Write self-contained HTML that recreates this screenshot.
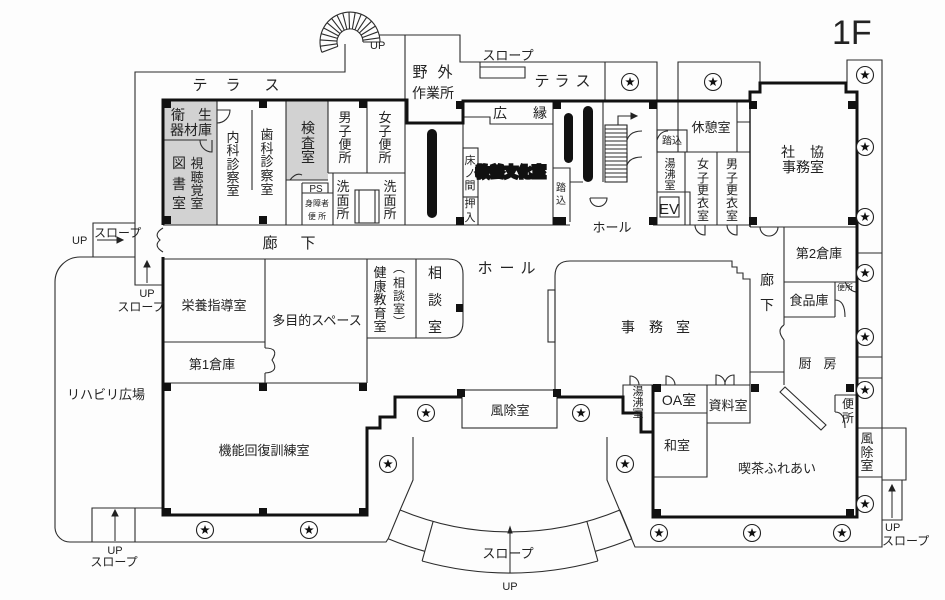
<!DOCTYPE html>
<html><head><meta charset="utf-8"><style>
html,body{margin:0;padding:0;background:#fff;}
svg{display:block;}
text{font-family:"Liberation Sans","Noto Sans CJK JP",sans-serif;fill:#222;}
</style></head><body>
<svg width="945" height="600" viewBox="0 0 945 600" xmlns="http://www.w3.org/2000/svg">
<rect width="945" height="600" fill="#fdfdfd"/>
<!-- gray rooms -->
<rect x="163" y="100" width="54" height="125" fill="#d2d2d2"/>
<rect x="286" y="100" width="42" height="80" fill="#d2d2d2"/>

<g fill="none" stroke="#2c2c2c" stroke-width="1.1">
<!-- spiral stair -->
<path d="M321.8,52.3 A30,30 0 1,1 380,42"/>
<path d="M337.8,46.4 A13,13 0 1,1 363,42"/>
<path d="M337.8,46.4L321.8,52.3M337.1,43.8L320.3,46.2M337,41.1L320.1,39.9M337.5,38.4L321.2,33.7M338.5,35.9L323.5,27.9M340,33.6L327,22.7M342,31.8L331.5,18.4M344.3,30.3L336.9,15M346.9,29.4L342.7,12.9M349.5,29L349,12M352.3,29.2L355.2,12.5M354.9,29.9L361.2,14.2M357.3,31.2L366.8,17.1M359.3,33L371.6,21.2M361,35.1L375.4,26.1M362.2,37.6L378.2,31.7M362.9,40.2L379.7,37.8M363,42H380"/>
<!-- left terrace -->
<path d="M345,44 V72 H135 V285 H163"/>
<path d="M135,223 H93 V257 H135"/>
<path d="M135,257 H80 A25,25 0 0,0 55,282 V528 A15,15 0 0,0 70,542 H386 L388.2,538.7"/>
<path d="M92,542 V508 H163 M135,508 V542"/>
<!-- top terraces -->
<path d="M379,35 H405 V225"/>
<path d="M405,35 H460 V62 H657 V100 M605,62 V100"/>
<path d="M678,100 V62 H760 V82"/>
<path d="M480,62 V78 H525 V67 H480"/>
<!-- right column -->
<path d="M847,83 V60 H882 V547 H635 L607,480 V437"/>
<path d="M857,253 H882 M857,357 H882 M857,378 H882 M857,428 H882 M857,477 H882"/>
<path d="M882,428 H906 V480 H882 M882,480 H902 V520 H882"/>
<!-- curved slope -->
<path d="M400.1,510 A286,286 0 0,0 619.9,510"/>
<path d="M388.2,538.7 A317,317 0 0,0 424.8,551.3"/>
<path d="M595.2,551.3 A317,317 0 0,0 631.8,538.7"/>
<path d="M422.1,561 A327,327 0 0,0 597.9,561"/>
<path d="M400.1,510 L388.2,538.7 M433.1,521.5 L422.1,561 M586.9,521.5 L597.9,561 M619.9,510 L631.8,538.7"/>
<path d="M413,437 V480 L400.1,510"/>

<!-- top room lines -->
<path d="M163,225 H570 M653,225 H750 M750,227 H857"/>
<path d="M217,100 V225 M252,110 V190 M286,100 V225 M163,140 H207"/>
<path d="M217,110 H230 A13,13 0 0,1 217,123"/>
<path d="M200,140 A12,12 0 0,0 212,152 V140"/>
<path d="M286,180 H328 M328,100 V173 M367,100 V173 M328,173 H405"/>
<path d="M290,180 Q296,172 302,175"/>
<path d="M302,183 V225 M302,183 H328 V193 M302,193 H333 M333,173 V225"/>
<rect x="355" y="190" width="24" height="33"/>
<path d="M359,190 V223 M375,190 V223"/>
<path d="M463,101 V225 M463,117 H490 V124 H553 M553,101 V225"/>
<rect x="463" y="148" width="15" height="49"/>
<path d="M463,197 H478 V225"/>
<path d="M553,168 H570 V222 M570,182 H583"/>
<path d="M603,101 V182"/>
<rect x="605" y="125" width="22" height="57"/>
<path d="M605,129H627M605,133H627M605,137H627M605,141H627M605,145H627M605,149H627M605,153H627M605,157H627M605,161H627M605,165H627M605,169H627M605,173H627M605,177H627"/>
<path d="M618,125 V116 H632"/>
<path d="M627,125 V140 M627,153 V182"/>
<path d="M627,140 Q630,131 642,131 M627,165 Q630,157 642,157"/>
<path d="M590,198 H607 A8.5,8.5 0 0,1 590,198"/>
<path d="M657,101 V225"/>
<rect x="657" y="130" width="30" height="22"/>
<path d="M657,140 Q660,131 668,131"/>
<path d="M678,101 V152 H750 M737,101 V152 M737,122 H750"/>
<path d="M685,152 V225 M657,192 H690 V225 M717,152 V225"/>
<rect x="660" y="197" width="19" height="20"/>
<path d="M695,225 A10,10 0 0,0 705,235 V225 M727,225 A10,10 0 0,0 737,235 V225"/>
<path d="M760,227 A9,9 0 0,0 769,236 A9,9 0 0,0 778,227"/>
<!-- left door -->
<path d="M163,228 Q153,234 160,240 Q153,246 163,252"/>

<!-- middle -->
<path d="M163,259 H448 Q463,259 463,274 V322 Q463,338 447,338 H367 M416,259 V338 M367,259 V383"/>
<path d="M265,259 V348 M265,373 V383 M163,342 H265 M163,383 H367"/>
<path d="M265,348 Q280,348 272,360 Q280,372 265,373"/>
<path d="M555,392 V276 Q555,261 570,261 H732 V267 H737 V273 H743 V279 H750 V372 H784"/>
<rect x="548" y="290" width="7" height="52"/>
<path d="M784,227 V325 M784,340 V385 M784,282 H857 M784,317 H835 M835,282 V317"/>
<path d="M784,325 Q776,330 784,340"/>
<path d="M835,300 Q845,300 845,317 M845,282 Q850,292 857,292"/>
<polygon points="780,392 785,387 826,425 821,430"/>
<path d="M835,395 H857 M835,395 V412 M835,412 Q845,412 845,428"/>
<rect x="462" y="390" width="95" height="38"/>
<path d="M623,397 V385 H750 M750,372 V423 H707 V385 M653,413 H707 M707,413 V477 H653"/>
<path d="M630,385 V376 A9,9 0 0,1 639,385 M666,385 V376 A9,9 0 0,1 675,385"/>
<path d="M716,385 V375 A9,9 0 0,1 725,385 A9,9 0 0,1 734,375 V385"/>
</g>

<!-- thick walls -->
<g fill="none" stroke="#111" stroke-width="3" stroke-linejoin="miter">
<path d="M163,225 V100 H407 V123 H463 V101 H750 V92 H760 V83 H846 V92 H857 V517 H653 V385"/>
<path d="M653,432 H641 V413 H623 V397 H557"/>
<path d="M462,397 H395 V417 H380 V428 H367 V515 H163 V257"/>
<path d="M750,101 V227" stroke-width="1.4"/>
</g>

<!-- arrowheads -->
<g fill="#222" stroke="#222" stroke-width="1">
<path d="M97,240 H118 M147,283 V266 M115,541 V515 M892,518 V490 M510,573 V532" fill="none"/>
<polygon points="123,240 117,237 117,243"/>
<polygon points="147,261 144,267 150,267"/>
<polygon points="115,510 112,516 118,516"/>
<polygon points="892,485 889,491 895,491"/>
<polygon points="510,527 508,533 512,533"/>
<polygon points="637,116 631,113 631,119"/>
</g>

<!-- black bars -->
<g fill="#111">
<rect x="427" y="129" width="10" height="89" rx="5"/>
<rect x="564" y="113" width="9" height="50" rx="4.5"/>
<rect x="583" y="106" width="10" height="76" rx="5"/>
</g>

<!-- columns -->
<g fill="#111">
<rect x="163" y="100" width="8" height="8"/><rect x="259" y="100" width="8" height="8"/><rect x="359" y="100" width="8" height="8"/><rect x="456" y="101" width="8" height="8"/><rect x="553" y="101" width="8" height="8"/><rect x="649" y="101" width="8" height="8"/><rect x="749" y="101" width="8" height="8"/><rect x="848" y="101" width="8" height="8"/>
<rect x="163" y="216" width="8" height="8"/><rect x="259" y="216" width="8" height="8"/><rect x="456" y="217" width="8" height="8"/><rect x="553" y="217" width="13" height="8"/><rect x="649" y="217" width="8" height="8"/><rect x="749" y="217" width="8" height="8"/><rect x="848" y="217" width="8" height="8"/>
<rect x="163" y="383" width="8" height="8"/><rect x="259" y="383" width="8" height="8"/><rect x="359" y="383" width="8" height="8"/>
<rect x="163" y="508" width="8" height="8"/><rect x="259" y="508" width="8" height="8"/><rect x="359" y="508" width="8" height="8"/>
<rect x="457" y="389" width="8" height="8"/><rect x="553" y="389" width="8" height="8"/><rect x="456" y="304" width="7" height="8"/>
<rect x="653" y="384" width="8" height="8"/><rect x="751" y="384" width="8" height="8"/><rect x="846" y="384" width="8" height="8"/><rect x="653" y="509" width="8" height="8"/><rect x="846" y="509" width="8" height="8"/>
</g>

<!-- stars -->
<g stroke="#222" stroke-width="1.1">
<g transform="translate(630,82)"><circle r="8.5" fill="#fff"/><polygon fill="#111" stroke="none" points="0,-5 1.18,-1.62 4.76,-1.55 1.9,0.62 2.94,4.05 0,2 -2.94,4.05 -1.9,0.62 -4.76,-1.55 -1.18,-1.62"/></g>
<g transform="translate(713,82)"><circle r="8.5" fill="#fff"/><polygon fill="#111" stroke="none" points="0,-5 1.18,-1.62 4.76,-1.55 1.9,0.62 2.94,4.05 0,2 -2.94,4.05 -1.9,0.62 -4.76,-1.55 -1.18,-1.62"/></g>
<g transform="translate(865,75)"><circle r="8.5" fill="#fff"/><polygon fill="#111" stroke="none" points="0,-5 1.18,-1.62 4.76,-1.55 1.9,0.62 2.94,4.05 0,2 -2.94,4.05 -1.9,0.62 -4.76,-1.55 -1.18,-1.62"/></g>
<g transform="translate(865,147)"><circle r="8.5" fill="#fff"/><polygon fill="#111" stroke="none" points="0,-5 1.18,-1.62 4.76,-1.55 1.9,0.62 2.94,4.05 0,2 -2.94,4.05 -1.9,0.62 -4.76,-1.55 -1.18,-1.62"/></g>
<g transform="translate(865,217)"><circle r="8.5" fill="#fff"/><polygon fill="#111" stroke="none" points="0,-5 1.18,-1.62 4.76,-1.55 1.9,0.62 2.94,4.05 0,2 -2.94,4.05 -1.9,0.62 -4.76,-1.55 -1.18,-1.62"/></g>
<g transform="translate(865,273)"><circle r="8.5" fill="#fff"/><polygon fill="#111" stroke="none" points="0,-5 1.18,-1.62 4.76,-1.55 1.9,0.62 2.94,4.05 0,2 -2.94,4.05 -1.9,0.62 -4.76,-1.55 -1.18,-1.62"/></g>
<g transform="translate(865,337)"><circle r="8.5" fill="#fff"/><polygon fill="#111" stroke="none" points="0,-5 1.18,-1.62 4.76,-1.55 1.9,0.62 2.94,4.05 0,2 -2.94,4.05 -1.9,0.62 -4.76,-1.55 -1.18,-1.62"/></g>
<g transform="translate(865,390)"><circle r="8.5" fill="#fff"/><polygon fill="#111" stroke="none" points="0,-5 1.18,-1.62 4.76,-1.55 1.9,0.62 2.94,4.05 0,2 -2.94,4.05 -1.9,0.62 -4.76,-1.55 -1.18,-1.62"/></g>
<g transform="translate(865,504)"><circle r="8.5" fill="#fff"/><polygon fill="#111" stroke="none" points="0,-5 1.18,-1.62 4.76,-1.55 1.9,0.62 2.94,4.05 0,2 -2.94,4.05 -1.9,0.62 -4.76,-1.55 -1.18,-1.62"/></g>
<g transform="translate(659,533)"><circle r="8.5" fill="#fff"/><polygon fill="#111" stroke="none" points="0,-5 1.18,-1.62 4.76,-1.55 1.9,0.62 2.94,4.05 0,2 -2.94,4.05 -1.9,0.62 -4.76,-1.55 -1.18,-1.62"/></g>
<g transform="translate(752,533)"><circle r="8.5" fill="#fff"/><polygon fill="#111" stroke="none" points="0,-5 1.18,-1.62 4.76,-1.55 1.9,0.62 2.94,4.05 0,2 -2.94,4.05 -1.9,0.62 -4.76,-1.55 -1.18,-1.62"/></g>
<g transform="translate(842,533)"><circle r="8.5" fill="#fff"/><polygon fill="#111" stroke="none" points="0,-5 1.18,-1.62 4.76,-1.55 1.9,0.62 2.94,4.05 0,2 -2.94,4.05 -1.9,0.62 -4.76,-1.55 -1.18,-1.62"/></g>
<g transform="translate(426,413)"><circle r="8.5" fill="#fff"/><polygon fill="#111" stroke="none" points="0,-5 1.18,-1.62 4.76,-1.55 1.9,0.62 2.94,4.05 0,2 -2.94,4.05 -1.9,0.62 -4.76,-1.55 -1.18,-1.62"/></g>
<g transform="translate(388,464)"><circle r="8.5" fill="#fff"/><polygon fill="#111" stroke="none" points="0,-5 1.18,-1.62 4.76,-1.55 1.9,0.62 2.94,4.05 0,2 -2.94,4.05 -1.9,0.62 -4.76,-1.55 -1.18,-1.62"/></g>
<g transform="translate(581,413)"><circle r="8.5" fill="#fff"/><polygon fill="#111" stroke="none" points="0,-5 1.18,-1.62 4.76,-1.55 1.9,0.62 2.94,4.05 0,2 -2.94,4.05 -1.9,0.62 -4.76,-1.55 -1.18,-1.62"/></g>
<g transform="translate(625,464)"><circle r="8.5" fill="#fff"/><polygon fill="#111" stroke="none" points="0,-5 1.18,-1.62 4.76,-1.55 1.9,0.62 2.94,4.05 0,2 -2.94,4.05 -1.9,0.62 -4.76,-1.55 -1.18,-1.62"/></g>
<g transform="translate(205,530)"><circle r="8.5" fill="#fff"/><polygon fill="#111" stroke="none" points="0,-5 1.18,-1.62 4.76,-1.55 1.9,0.62 2.94,4.05 0,2 -2.94,4.05 -1.9,0.62 -4.76,-1.55 -1.18,-1.62"/></g>
<g transform="translate(309,530)"><circle r="8.5" fill="#fff"/><polygon fill="#111" stroke="none" points="0,-5 1.18,-1.62 4.76,-1.55 1.9,0.62 2.94,4.05 0,2 -2.94,4.05 -1.9,0.62 -4.76,-1.55 -1.18,-1.62"/></g>
</g>

<!-- text -->
<text x="832" y="44" font-size="34">1F</text>
<g font-size="15" text-anchor="middle">
<text x="200" y="90">テ</text><text x="233" y="90">ラ</text><text x="272" y="90">ス</text>
<text x="542" y="86">テ</text><text x="562" y="86">ラ</text><text x="583" y="86">ス</text>
<text x="420" y="77">野</text><text x="445" y="77">外</text>
<text x="270" y="248">廊</text><text x="308" y="248">下</text>
<text x="485" y="273">ホ</text><text x="507" y="273">ー</text><text x="528" y="273">ル</text>
<text x="669" y="214">EV</text>
</g>
<g font-size="14" text-anchor="middle">
<text x="433" y="98">作業所</text>
<text x="500" y="118">広</text><text x="540" y="118">縁</text>
<text x="178" y="120">衛</text><text x="205" y="120">生</text>
<text x="191" y="135">器材庫</text>
<text><tspan x="179" y="168">図</tspan><tspan x="179" y="189">書</tspan><tspan x="179" y="208">室</tspan></text>
<text><tspan x="308" y="133">検</tspan><tspan x="308" y="148">査</tspan><tspan x="308" y="162">室</tspan></text>
<text><tspan x="435" y="278">相</tspan><tspan x="435" y="305">談</tspan><tspan x="435" y="332">室</tspan></text>
<text x="788" y="157">社</text><text x="817" y="157">協</text>
<text x="803" y="172">事務室</text>
<text x="628" y="332">事</text><text x="656" y="332">務</text><text x="683" y="332">室</text>
<text x="767" y="285">廊</text><text x="767" y="310">下</text>
<text x="679" y="405">OA室</text>
<text x="511" y="177" font-weight="bold" stroke="#111" stroke-width="3" fill="#111">教養文化室</text>
</g>
<g font-size="13" text-anchor="middle">
<text x="508" y="60">スロープ</text>
<text><tspan x="197" y="168">視</tspan><tspan x="197" y="182">聴</tspan><tspan x="197" y="195">覚</tspan><tspan x="197" y="208">室</tspan></text>
<text><tspan x="233" y="142">内</tspan><tspan x="233" y="155">科</tspan><tspan x="233" y="169">診</tspan><tspan x="233" y="182">察</tspan><tspan x="233" y="195">室</tspan></text>
<text><tspan x="267" y="139">歯</tspan><tspan x="267" y="153">科</tspan><tspan x="267" y="166">診</tspan><tspan x="267" y="180">察</tspan><tspan x="267" y="194">室</tspan></text>
<text><tspan x="345" y="122">男</tspan><tspan x="345" y="136">子</tspan><tspan x="345" y="149">便</tspan><tspan x="345" y="162">所</tspan></text>
<text><tspan x="385" y="122">女</tspan><tspan x="385" y="136">子</tspan><tspan x="385" y="149">便</tspan><tspan x="385" y="162">所</tspan></text>
<text><tspan x="343" y="191">洗</tspan><tspan x="343" y="205">面</tspan><tspan x="343" y="218">所</tspan></text>
<text><tspan x="390" y="191">洗</tspan><tspan x="390" y="205">面</tspan><tspan x="390" y="218">所</tspan></text>
<text><tspan x="380" y="277">健</tspan><tspan x="380" y="291">康</tspan><tspan x="380" y="304">教</tspan><tspan x="380" y="318">育</tspan><tspan x="380" y="331">室</tspan></text>
<text x="711" y="132">休憩室</text>
<text x="612" y="232">ホール</text>
<text x="819" y="258">第2倉庫</text>
<text x="809" y="305">食品庫</text>
<text x="805" y="368">厨</text><text x="830" y="368">房</text>
<text x="214" y="310">栄養指導室</text>
<text x="317" y="325">多目的スペース</text>
<text x="212" y="369">第1倉庫</text>
<text x="106" y="399">リハビリ広場</text>
<text x="264" y="455">機能回復訓練室</text>
<text x="510" y="415">風除室</text>
<text x="728" y="410">資料室</text>
<text x="677" y="450">和室</text>
<text x="777" y="473">喫茶ふれあい</text>
<text x="508" y="558">スロープ</text>
<text><tspan x="867" y="443">風</tspan><tspan x="867" y="457">除</tspan><tspan x="867" y="470">室</tspan></text>
</g>
<g font-size="12" text-anchor="middle">
<text><tspan x="399" y="272">︵</tspan><tspan x="399" y="287">相</tspan><tspan x="399" y="300">談</tspan><tspan x="399" y="313">室</tspan><tspan x="399" y="326">︶</tspan></text>
<text><tspan x="703" y="168">女</tspan><tspan x="703" y="182">子</tspan><tspan x="703" y="194">更</tspan><tspan x="703" y="207">衣</tspan><tspan x="703" y="220">室</tspan></text>
<text><tspan x="732" y="168">男</tspan><tspan x="732" y="182">子</tspan><tspan x="732" y="194">更</tspan><tspan x="732" y="207">衣</tspan><tspan x="732" y="220">室</tspan></text>
<text><tspan x="848" y="408">便</tspan><tspan x="848" y="422">所</tspan></text>
<text x="141" y="311">スロープ</text>
<text x="114" y="566">スロープ</text>
</g>
<g font-size="11" text-anchor="middle">
<text><tspan x="670" y="167">湯</tspan><tspan x="670" y="178">沸</tspan><tspan x="670" y="189">室</tspan></text>
<text><tspan x="638" y="395">湯</tspan><tspan x="638" y="406">沸</tspan><tspan x="638" y="417">室</tspan></text>
<text><tspan x="470" y="164">床</tspan><tspan x="470" y="177">ノ</tspan><tspan x="470" y="189">間</tspan></text>
<text><tspan x="470" y="207">押</tspan><tspan x="470" y="221">入</tspan></text>
<text x="147" y="297">UP</text>
<text x="115" y="554">UP</text>
<text x="510" y="590">UP</text>
</g>
<g font-size="10" text-anchor="middle">
<text x="672" y="144">踏込</text>
<text><tspan x="561" y="191">踏</tspan><tspan x="561" y="204">込</tspan></text>
<text x="316" y="192">PS</text>
</g>
<g font-size="8" text-anchor="middle">
<text x="317" y="206">身障者</text>
<text x="317" y="219">便 所</text>
<text x="845" y="290">便所</text>
</g>
<text x="72" y="244" font-size="11">UP</text>
<text x="94" y="237" font-size="12">スロープ</text>
<text x="370" y="49" font-size="11">UP</text>
<text x="885" y="531" font-size="11">UP</text>
<text x="882" y="545" font-size="12">スロープ</text>
</svg>
</body></html>
